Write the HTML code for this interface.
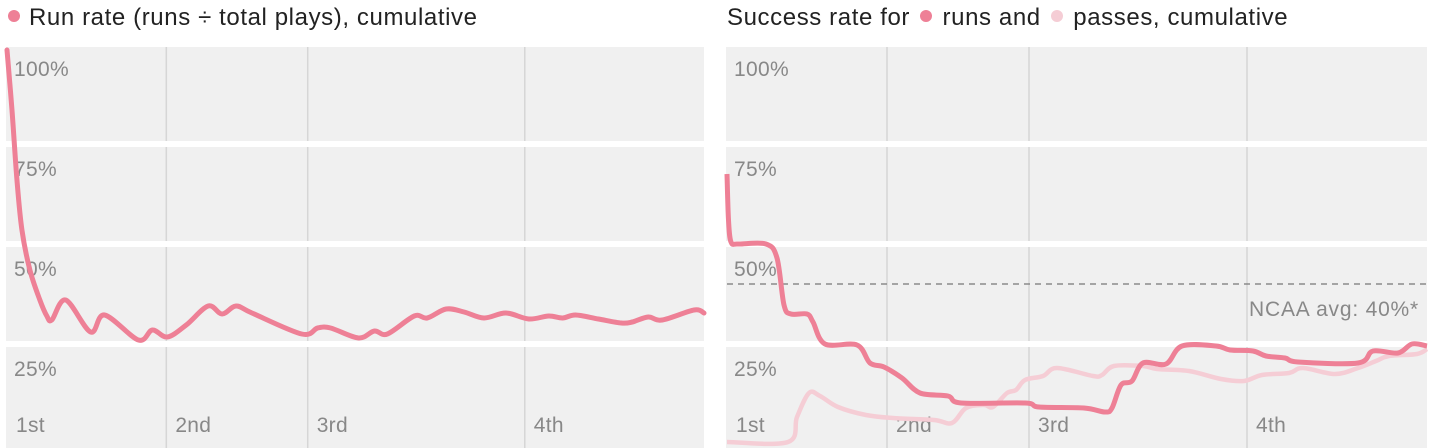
<!DOCTYPE html>
<html><head><meta charset="utf-8">
<style>
html,body{margin:0;padding:0;background:#fff;width:1430px;height:448px;overflow:hidden}
svg{display:block;font-family:"Liberation Sans",sans-serif}
</style></head>
<body>
<svg id="chart" width="1430" height="448"></svg>
<script>
const quarterLabels = ["1st","2nd","3rd","4th"];
const quarterStarts = [0, 32, 60.4, 104];
const yTicks = [100, 75, 50, 25];
const runRateX = [0,1,2,3,4.6,6.6,8,9,11.8,16.8,19.6,26.4,29.2,32.2,36,40.4,43.2,46,49.2,59.2,62.4,65,70.6,73.8,76.4,81.8,84.4,88.2,91.8,95.8,100.2,104.8,108.8,111.6,114.2,118.8,123.4,125.6,128.8,131.6,138,140];
const runRateY = [98.5,83.5,66,53.5,43.5,36,32,31,36,28,32.25,26,28.5,26.75,29.75,34.5,32.5,34.5,32.75,27.5,29,29,26.5,28.25,27.5,32,31.5,33.75,33,31.5,32.75,31.25,32,31.5,32.25,31.25,30.25,30.5,31.75,31,33.5,32.75];
const runSuccX = [0,0.3,0.8,2.2,7.8,10,11.4,12.8,16,17.2,19.6,26,28.6,31.4,35,38.6,44.2,46.8,59.6,62.4,71.4,75.6,77,78.8,81,83.2,87.8,91,97.8,100.6,105.2,107.8,111.6,114.2,126.2,129.2,134.2,137,140];
const runSuccY = [67.5,56,50.5,50,50,46.5,34.75,32.5,32.5,30.5,25,24.75,20.25,19.25,16.5,12.75,12,10.25,10.25,9.25,9,8,9,14.75,15.75,20.25,20,24.5,24.5,23.5,23.25,22,21.5,20.5,20.25,23.25,22.75,25,24.5];
const passSuccX = [0,12.2,14,16.4,18.6,22.2,27.8,33.2,41.4,45,47.8,51.4,53.2,56,57.8,59.6,63.2,66,73.2,75,77.4,83.2,86,92.4,98.8,103.4,107,112.4,115.2,121.6,126.2,129.8,132.4,138,140];
const passSuccY = [0.5,0.5,6.75,12.75,12,9.25,7.25,6.5,6,5.25,9,9.75,9.25,12.75,13.5,16,17,19,17,17.25,19.5,19.5,18.75,18.25,16.25,15.75,17.25,17.75,19,17.5,19,20.75,22,22.5,23.75];
const ncaaAvg = 40;

const NS="http://www.w3.org/2000/svg";
const svg=document.getElementById('chart');
function mk(tag,attrs,parent){const e=document.createElementNS(NS,tag);for(const k in attrs)e.setAttribute(k,attrs[k]);(parent||svg).appendChild(e);return e;}
const yS=v=>444-v*4;
function smooth(xs,ys,xS){
  const p=xs.map((x,i)=>[xS(x),yS(ys[i])]);
  let d="M"+p[0][0]+","+p[0][1];
  for(let i=0;i<p.length-1;i++){
    const p0=p[i-1]||p[i],p1=p[i],p2=p[i+1],p3=p[i+2]||p2;
    const c1=[p1[0]+(p2[0]-p0[0])/6,p1[1]+(p2[1]-p0[1])/6];
    const c2=[p2[0]-(p3[0]-p1[0])/6,p2[1]-(p3[1]-p1[1])/6];
    d+=" C"+c1[0]+","+c1[1]+" "+c2[0]+","+c2[1]+" "+p2[0]+","+p2[1];
  }
  return d;
}
function panel(x0,x1,name){
  const g=mk('g',{});
  
  
  const xS=v=>x0+v/140*(x1-x0);
  const bg=mk('rect',{x:x0-1,y:47,width:x1-x0+1,height:401,fill:'#f0f0f0'},g);
  
  
  quarterStarts.forEach((q,i)=>{
    if(i>0){
      const l=mk('line',{x1:xS(q),x2:xS(q),y1:47,y2:448,stroke:'#d6d6d6','stroke-width':1.5},g);
      
      
    }
    const t=mk('text',{x:xS(q)+9,y:432,fill:'#888','font-size':21,'letter-spacing':'0.3'},g);
    t.textContent=quarterLabels[i];
    
    
  });
  [75,50,25].forEach(v=>{
    const r=mk('rect',{x:x0-1,y:yS(v)-3,width:x1-x0+1,height:6,fill:'#fff'},g);
    
    
  });
  yTicks.forEach(v=>{
    const t=mk('text',{x:x0+7,y:yS(v)+32,fill:'#888','font-size':21,'letter-spacing':'0.3'},g);
    t.textContent=v+'%';
    
    
  });
  return {g,xS};
}
const L=panel(7,704,'run-rate-panel');
const lp=mk('path',{d:smooth(runRateX,runRateY,L.xS),fill:'none',stroke:'#ee8096','stroke-width':5,'stroke-linejoin':'round','stroke-linecap':'round'},L.g);


const R=panel(727,1427,'success-rate-panel');
const dl=mk('line',{x1:727,x2:1427,y1:yS(ncaaAvg),y2:yS(ncaaAvg),stroke:'#8a8a8a','stroke-width':1.5,'stroke-dasharray':'6,5'},R.g);


const nt=mk('text',{x:1419,y:yS(ncaaAvg)+32,fill:'#888','font-size':21,'letter-spacing':'0.8','text-anchor':'end'},R.g);
nt.textContent='NCAA avg: 40%*';


const pp=mk('path',{d:smooth(passSuccX,passSuccY,R.xS),fill:'none',stroke:'#f5cdd5','stroke-width':4.5,'stroke-linejoin':'round'},R.g);


const rp=mk('path',{d:smooth(runSuccX,runSuccY,R.xS),fill:'none',stroke:'#ee8096','stroke-width':5,'stroke-linejoin':'round'},R.g);


</script>
<div style="position:absolute;left:0;top:0;width:1430px;font-family:'Liberation Sans',sans-serif;font-size:24px;letter-spacing:0.6px;color:#222">
  <div style="position:absolute;left:8px;top:4px;white-space:nowrap"><span style="display:inline-block;width:12px;height:12px;border-radius:50%;background:#ee8096;margin-right:9px;vertical-align:3px"></span>Run rate (runs ÷ total plays), cumulative</div>
  <div style="position:absolute;left:727px;top:4px;white-space:nowrap">Success rate for <span style="display:inline-block;width:12px;height:12px;border-radius:50%;background:#ee8096;margin:0 3px;vertical-align:3px"></span> runs and <span style="display:inline-block;width:12px;height:12px;border-radius:50%;background:#f5cdd5;margin:0 3px;vertical-align:3px"></span> passes, cumulative</div>
</div>
</body></html>
